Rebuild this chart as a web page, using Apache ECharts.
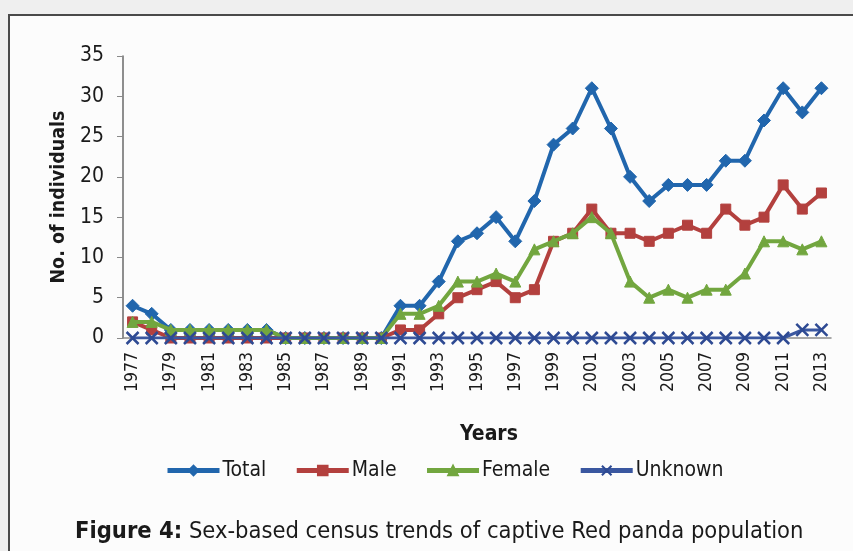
<!DOCTYPE html>
<html>
<head>
<meta charset="utf-8">
<script src="https://cdn.jsdelivr.net/npm/echarts@6/dist/echarts.min.js"></script>
<style>
  html, body { margin: 0; padding: 0; width: 853px; height: 551px; overflow: hidden; background: #efefef; }
  #page { position: absolute; left: 8px; top: 14px; width: 845px; height: 537px;
          background: #fcfcfc; border-left: 2px solid #4a4a4a; border-top: 2px solid #4a4a4a; }
  #chart { position: absolute; left: 0; top: 0; width: 853px; height: 551px; }
</style>
</head>
<body>
<div id="page"></div>
<div id="chart"></div>
<script>
// Captive red panda census, 1977-2013
const years = [];
for (let y = 1977; y <= 2013; y++) years.push(String(y));

const total   = [4, 3, 1, 1, 1, 1, 1, 1, 0, 0, 0, 0, 0, 0, 4, 4, 7, 12, 13, 15, 12, 17, 24, 26, 31, 26, 20, 17, 19, 19, 19, 22, 22, 27, 31, 28, 31];
const male    = [2, 1, 0, 0, 0, 0, 0, 0, 0, 0, 0, 0, 0, 0, 1, 1, 3, 5, 6, 7, 5, 6, 12, 13, 16, 13, 13, 12, 13, 14, 13, 16, 14, 15, 19, 16, 18];
const female  = [2, 2, 1, 1, 1, 1, 1, 1, 0, 0, 0, 0, 0, 0, 3, 3, 4, 7, 7, 8, 7, 11, 12, 13, 15, 13, 7, 5, 6, 5, 6, 6, 8, 12, 12, 11, 12];
const unknown = [0, 0, 0, 0, 0, 0, 0, 0, 0, 0, 0, 0, 0, 0, 0, 0, 0, 0, 0, 0, 0, 0, 0, 0, 0, 0, 0, 0, 0, 0, 0, 0, 0, 0, 0, 1, 1];

const yTicks = { min: 0, max: 35, interval: 5 };

const FONT = "'Liberation Sans Narrow', 'Arial Narrow', 'DejaVu Sans Condensed', sans-serif";
const TEXT = '#1a1a1a';

const crossPath = 'path://M0,0 L10,10 M10,0 L0,10';

const chart = echarts.init(document.getElementById('chart'), null, { renderer: 'canvas' });

// later series sit on top of earlier ones
function lineSeries(name, data, color, symbol, size, width, z) {
  return {
    name, type: 'line', data, z,
    symbol, symbolSize: size, showAllSymbol: true,
    lineStyle: { color, width },
    itemStyle: { color, borderColor: color, borderWidth: 1 },
    emphasis: { disabled: true },
    animation: false
  };
}

chart.setOption({
  backgroundColor: 'transparent',
  animation: false,
  textStyle: { fontFamily: FONT, color: TEXT },
  title: {
    text: '{b|Figure 4:} Sex-based census trends of captive Red panda population',
    left: 70, top: 515,
    textStyle: {
      fontFamily: FONT, fontSize: 23.5, fontWeight: 'normal', color: TEXT,
      rich: { b: { fontFamily: FONT, fontSize: 23.5, fontWeight: 'bold', color: TEXT } }
    }
  },
  legend: {
    top: 455, left: 160,
    itemWidth: 52, itemHeight: 12, itemGap: 28,
    lineStyle: { width: 5 },
    textStyle: { fontFamily: FONT, fontSize: 21, color: TEXT, padding: [0, 0, 0, -2] },
    data: ['Total', 'Male', 'Female', 'Unknown']
  },
  grid: { left: 123, top: 56, width: 708, height: 282, containLabel: false },
  xAxis: {
    type: 'category', data: years, boundaryGap: true,
    name: 'Years', nameLocation: 'middle', nameGap: 86,
    nameTextStyle: { fontFamily: FONT, fontSize: 21, fontWeight: 'bold', color: TEXT, padding: [0, 0, 0, 24] },
    axisLine: { lineStyle: { color: '#8a8a8a', width: 1.5 } },
    axisTick: { show: false },
    axisLabel: { rotate: 90, interval: 1, fontFamily: FONT, fontSize: 17.5, color: TEXT, margin: 14 },
    splitLine: { show: false }
  },
  yAxis: {
    type: 'value', min: yTicks.min, max: yTicks.max, interval: yTicks.interval,
    name: 'No. of individuals', nameLocation: 'middle', nameRotate: 90, nameGap: 52,
    nameTextStyle: { fontFamily: FONT, fontSize: 19.5, fontWeight: 'bold', color: TEXT },
    axisLine: { show: true, lineStyle: { color: '#6a6a6a', width: 1.5 } },
    axisTick: { show: true, inside: false, length: 6, lineStyle: { color: '#8a8a8a' } },
    axisLabel: { fontFamily: FONT, fontSize: 21, color: TEXT, margin: 19 },
    splitLine: { show: false }
  },
  series: [
    lineSeries('Total', total, '#2166ad', 'diamond', 13, 4, 2),
    lineSeries('Male', male, '#b3403e', 'rect', 10, 4, 3),
    lineSeries('Female', female, '#72a63f', 'triangle', 11, 4, 4),
    Object.assign(lineSeries('Unknown', unknown, '#3a57a0', crossPath, 12, 3, 5), {
      itemStyle: { color: 'none', borderColor: '#2e4a93', borderWidth: 2.5 }
    })
  ]
});
</script>
</body>
</html>
